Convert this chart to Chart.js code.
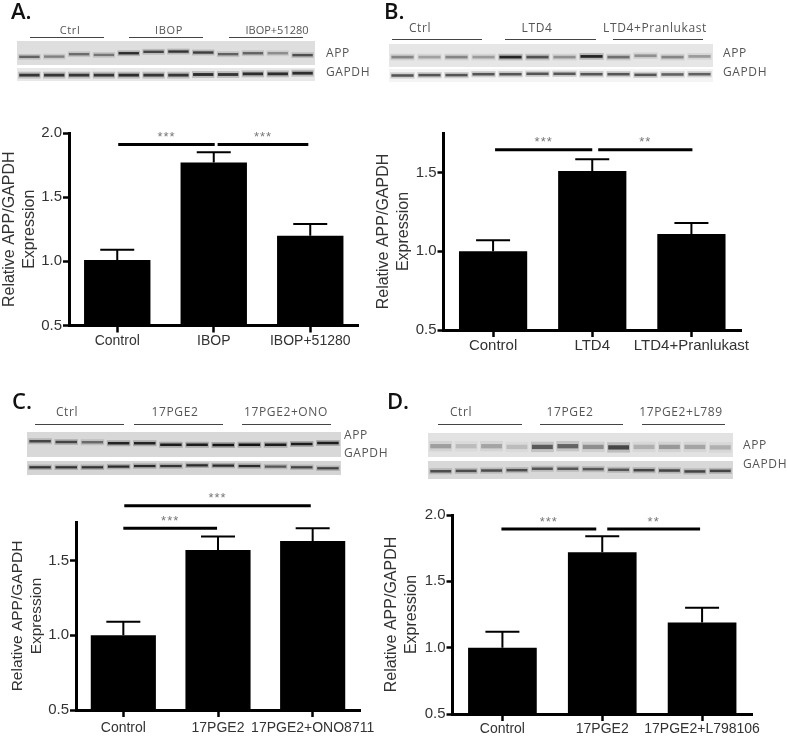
<!DOCTYPE html>
<html>
<head>
<meta charset="utf-8">
<title>APP/GAPDH expression</title>
<script src="https://cdn.jsdelivr.net/npm/chart.js@4"></script>
<style>
  html, body { margin: 0; background: #fff; }
  #page { position: relative; width: 787px; height: 736px; overflow: hidden; font-family: "Open Sans", sans-serif; filter: blur(0.3px); }
  #page canvas { position: absolute; }
  .strip { filter: blur(0.6px); }
  .panel { position: absolute; font-size: 22px; font-weight: 600; line-height: 28px; color: #111; }
  .lab { position: absolute; font-size: 12px; line-height: 14px; color: #555; letter-spacing: 0.6px; white-space: nowrap; }
  .lab.small { font-size: 11px; }
  .lab.tight { font-size: 11px; letter-spacing: 0; }
  .lab.c { transform: translateX(-50%); }
  .rule { position: absolute; height: 1px; background: #444; }
</style>
</head>
<body>
<div id="page"></div>
<script>
// bar values
const catsA = ["Control", "IBOP", "IBOP+51280"];
const valsA = [1.01, 1.77, 1.20];
const errsA = [1.09, 1.85, 1.29];
const catsB = ["Control", "LTD4", "LTD4+Pranlukast"];
const valsB = [1.00, 1.51, 1.11];
const errsB = [1.07, 1.585, 1.18];
const catsC = ["Control", "17PGE2", "17PGE2+ONO8711"];
const valsC = [1.00, 1.57, 1.63];
const errsC = [1.09, 1.66, 1.715];
const catsD = ["Control", "17PGE2", "17PGE2+L798106"];
const valsD = [1.00, 1.72, 1.19];
const errsD = [1.12, 1.84, 1.30];

// significance bars: category from, category to, value, stars
const sigFromA = [0.01, 1.04];
const sigToA = [1.01, 1.98];
const sigYA = [1.91, 1.91];
const sigStarsA = ["***", "***"];
const sigFromB = [0.02, 1.06];
const sigToB = [1.0, 2.01];
const sigYB = [1.645, 1.645];
const sigStarsB = ["***", "**"];
const sigFromC = [0.0, 0.01];
const sigToC = [0.99, 1.98];
const sigYC = [1.715, 1.865];
const sigStarsC = ["***", "***"];
const sigFromD = [-0.01, 1.05];
const sigToD = [0.94, 1.98];
const sigYD = [1.895, 1.895];
const sigStarsD = ["***", "**"];

// blot lanes, 12 per strip: band level (0 top, 1 bottom of strip) and darkness
const appLevelA = [0.66, 0.65, 0.55, 0.58, 0.51, 0.45, 0.44, 0.48, 0.55, 0.51, 0.51, 0.59];
const appDarkA = [0.55, 0.4, 0.5, 0.45, 0.85, 0.7, 0.8, 0.75, 0.55, 0.55, 0.35, 0.65];
const gapLevelA = [0.55, 0.55, 0.55, 0.55, 0.55, 0.55, 0.55, 0.5, 0.5, 0.45, 0.45, 0.4];
const gapDarkA = [0.8, 0.8, 0.8, 0.8, 0.85, 0.8, 0.8, 0.85, 0.8, 0.85, 0.85, 0.85];
const appLevelB = [0.57, 0.57, 0.57, 0.57, 0.57, 0.57, 0.57, 0.54, 0.57, 0.51, 0.57, 0.54];
const appDarkB = [0.4, 0.28, 0.4, 0.3, 0.9, 0.65, 0.35, 0.9, 0.5, 0.35, 0.4, 0.3];
const gapLevelB = [0.5, 0.47, 0.47, 0.4, 0.4, 0.37, 0.37, 0.4, 0.4, 0.45, 0.42, 0.4];
const gapDarkB = [0.65, 0.65, 0.65, 0.65, 0.65, 0.65, 0.65, 0.65, 0.65, 0.65, 0.6, 0.6];
const appLevelC = [0.37, 0.4, 0.41, 0.45, 0.45, 0.51, 0.51, 0.52, 0.51, 0.51, 0.48, 0.44];
const appDarkC = [0.7, 0.7, 0.5, 0.9, 0.9, 0.95, 0.95, 1, 1, 0.95, 0.95, 0.95];
const gapLevelC = [0.45, 0.45, 0.45, 0.4, 0.36, 0.36, 0.31, 0.33, 0.36, 0.4, 0.45, 0.52];
const gapDarkC = [0.8, 0.8, 0.8, 0.85, 0.85, 0.8, 0.85, 0.85, 0.85, 0.6, 0.7, 0.7];
const appLevelD = [0.55, 0.55, 0.55, 0.58, 0.58, 0.55, 0.58, 0.6, 0.58, 0.58, 0.58, 0.6];
const appDarkD = [0.28, 0.15, 0.25, 0.15, 0.6, 0.55, 0.35, 0.7, 0.2, 0.3, 0.25, 0.2];
const gapLevelD = [0.57, 0.55, 0.53, 0.51, 0.43, 0.43, 0.45, 0.49, 0.51, 0.53, 0.58, 0.55];
const gapDarkD = [0.65, 0.65, 0.65, 0.65, 0.6, 0.6, 0.6, 0.6, 0.7, 0.7, 0.7, 0.7];
const lanes = ["1", "2", "3", "4", "5", "6", "7", "8", "9", "10", "11", "12"];

const page = document.getElementById("page");

function addCanvas(left, top, width, height, cls) {
  const c = document.createElement("canvas");
  c.width = width;
  c.height = height;
  c.style.left = left + "px";
  c.style.top = top + "px";
  c.style.width = width + "px";
  c.style.height = height + "px";
  if (cls) c.className = cls;
  page.appendChild(c);
  return c;
}

function addText(cls, text, left, top) {
  const d = document.createElement("div");
  d.className = cls;
  d.textContent = text;
  d.style.left = left + "px";
  d.style.top = top + "px";
  page.appendChild(d);
}

function addRule(left, right, top) {
  const d = document.createElement("div");
  d.className = "rule";
  d.style.left = left + "px";
  d.style.width = right - left + "px";
  d.style.top = top + "px";
  page.appendChild(d);
}

// error bars and significance bars, placed with the chart's own scales
const marksPlugin = {
  id: "marks",
  afterDatasetsDraw(chart, args, o) {
    const { ctx, scales: { x, y } } = chart;
    ctx.save();
    ctx.strokeStyle = "#000";
    ctx.lineWidth = 2;
    o.errs.forEach((e, i) => {
      const px = x.getPixelForValue(i);
      ctx.beginPath();
      ctx.moveTo(px, y.getPixelForValue(o.vals[i]));
      ctx.lineTo(px, y.getPixelForValue(e));
      ctx.moveTo(px - 17, y.getPixelForValue(e));
      ctx.lineTo(px + 17, y.getPixelForValue(e));
      ctx.stroke();
    });
    o.sigY.forEach((v, i) => {
      const x1 = x.getPixelForValue(o.sigFrom[i]);
      const x2 = x.getPixelForValue(o.sigTo[i]);
      const py = y.getPixelForValue(v);
      ctx.lineWidth = 3;
      ctx.beginPath();
      ctx.moveTo(x1, py);
      ctx.lineTo(x2, py);
      ctx.stroke();
      ctx.fillStyle = "#777";
      ctx.font = "13px 'Liberation Sans'";
      ctx.textAlign = "center";
      ctx.textBaseline = "middle";
      ctx.letterSpacing = "1px";
      ctx.fillText(o.sigStars[i], (x1 + x2) / 2, py - 7);
      ctx.letterSpacing = "0px";
    });
    ctx.restore();
  },
};

function barPanel(box, plot, yMax, tickSize, titleSize, cats, vals, errs, sigFrom, sigTo, sigY, sigStars) {
  const c = addCanvas(box.left, box.top, box.width, box.height);
  new Chart(c, {
    type: "bar",
    data: {
      labels: cats,
      datasets: [{ data: vals, backgroundColor: "#000", barPercentage: 0.688, categoryPercentage: 1, base: 0.5 }],
    },
    plugins: [marksPlugin],
    options: {
      responsive: false,
      animation: false,
      layout: { padding: { top: plot.top - box.top, right: box.left + box.width - plot.right, left: 0, bottom: 0 } },
      plugins: {
        legend: { display: false },
        tooltip: { enabled: false },
        marks: { vals, errs, sigFrom, sigTo, sigY, sigStars },
      },
      scales: {
        x: {
          afterFit: (s) => { s.height = box.top + box.height - plot.bottom; },
          border: { color: "#000", width: 3 },
          grid: { drawOnChartArea: false, offset: false, color: "#000", tickLength: 7, tickWidth: 2.5 },
          ticks: {
            autoSkip: false, maxRotation: 0, minRotation: 0, padding: box.tickPad, color: "#333",
            font: { family: "Liberation Sans", size: tickSize },
          },
        },
        y: {
          min: 0.5,
          max: yMax,
          afterFit: (s) => { s.width = plot.left - box.left; },
          border: { color: "#000", width: 3 },
          grid: { drawOnChartArea: false, color: "#000", tickLength: 6, tickWidth: 2.5 },
          ticks: {
            stepSize: 0.5, includeBounds: false, padding: 1, color: "#333",
            font: { family: "Liberation Sans", size: 15 },
            callback: (v) => v.toFixed(1),
          },
          title: {
            display: true,
            text: ["Relative APP/GAPDH", "Expression"],
            color: "#333",
            font: { family: "Liberation Sans", size: titleSize, lineHeight: 1.25 },
            padding: { top: 0, bottom: 0 },
          },
        },
      },
    },
  });
}

// one blot strip drawn as floating bars, blurred a little by css
function blotStrip(left, top, width, height, bg, halfBand, levels, dark) {
  const c = addCanvas(left, top, width, height, "strip");
  const band = (h) => levels.map((v) => [v - h, v + h]);
  new Chart(c, {
    type: "bar",
    data: {
      labels: lanes,
      datasets: [
        { data: band(halfBand), backgroundColor: dark.map((d) => `rgba(20,20,20,${d})`), barPercentage: 0.82, categoryPercentage: 1, grouped: false, order: 0 },
        { data: band(halfBand * 2.4), backgroundColor: dark.map((d) => `rgba(40,40,40,${d * 0.28})`), barPercentage: 0.9, categoryPercentage: 1, grouped: false, order: 1 },
      ],
    },
    plugins: [{
      id: "stripBg",
      beforeDraw(chart) {
        chart.ctx.fillStyle = bg;
        chart.ctx.fillRect(0, 0, width, height);
      },
    }],
    options: {
      responsive: false,
      animation: false,
      layout: { padding: 0 },
      plugins: { legend: { display: false }, tooltip: { enabled: false } },
      scales: {
        x: { display: false },
        y: { display: false, min: 0, max: 1, reverse: true },
      },
    },
  });
}

// panel A
addText("panel", "A.", 11, -4);
addText("lab c small", "Ctrl", 70, 23);
addText("lab c small", "IBOP", 169, 23);
addText("lab c tight", "IBOP+51280", 277, 23);
addRule(30, 104, 37);
addRule(129, 203, 37);
addRule(229, 303, 37);
blotStrip(17, 41, 298, 24, "#dedede", 0.05, appLevelA, appDarkA);
blotStrip(17, 68, 298, 13, "#e8e8e8", 0.11, gapLevelA, gapDarkA);
addText("lab", "APP", 326, 46);
addText("lab", "GAPDH", 326, 65);
barPanel({ left: 0, top: 118, width: 375, height: 230, tickPad: 0 }, { left: 69, top: 133, right: 358.5, bottom: 325.5 }, 2.0, 14, 16,
  catsA, valsA, errsA, sigFromA, sigToA, sigYA, sigStarsA);

// panel B
addText("panel", "B.", 384, -4);
addText("lab c", "Ctrl", 420, 21);
addText("lab c", "LTD4", 537, 21);
addText("lab c", "LTD4+Pranlukast", 655, 21);
addRule(392, 482, 39);
addRule(505, 596, 39);
addRule(613, 703, 39);
blotStrip(389, 44, 324, 23, "#e6e6e6", 0.06, appLevelB, appDarkB);
blotStrip(389, 69, 324, 13, "#f4f4f4", 0.1, gapLevelB, gapDarkB);
addText("lab", "APP", 723, 46);
addText("lab", "GAPDH", 723, 65);
barPanel({ left: 374, top: 120, width: 398, height: 236, tickPad: 0 }, { left: 443.5, top: 133, right: 741, bottom: 330 }, 1.752, 15, 16,
  catsB, valsB, errsB, sigFromB, sigToB, sigYB, sigStarsB);

// panel C
addText("panel", "C.", 12, 386);
addText("lab c", "Ctrl", 67, 405);
addText("lab c", "17PGE2", 175, 405);
addText("lab c", "17PGE2+ONO", 286, 405);
addRule(35, 124, 424);
addRule(134, 223, 424);
addRule(242, 331, 424);
blotStrip(27, 432, 314, 25, "#d8d8d8", 0.05, appLevelC, appDarkC);
blotStrip(27, 461, 314, 14, "#d4d4d4", 0.08, gapLevelC, gapDarkC);
addText("lab", "APP", 344, 428);
addText("lab", "GAPDH", 344, 446);
barPanel({ left: 8, top: 486, width: 387, height: 250, tickPad: 3 }, { left: 76, top: 522, right: 360, bottom: 710 }, 1.757, 14, 15.5,
  catsC, valsC, errsC, sigFromC, sigToC, sigYC, sigStarsC);

// panel D
addText("panel", "D.", 387, 386);
addText("lab c", "Ctrl", 461, 405);
addText("lab c", "17PGE2", 570, 405);
addText("lab c", "17PGE2+L789", 681, 405);
addRule(438, 522, 424);
addRule(540, 623, 424);
addRule(642, 725, 424);
blotStrip(428, 433, 305, 24, "#e2e2e2", 0.09, appLevelD, appDarkD);
blotStrip(428, 461, 305, 18, "#d8d8d8", 0.07, gapLevelD, gapDarkD);
addText("lab", "APP", 743, 438);
addText("lab", "GAPDH", 743, 457);
barPanel({ left: 382, top: 500, width: 402, height: 236, tickPad: 0 }, { left: 452.5, top: 515, right: 752, bottom: 714 }, 2.0, 14, 16,
  catsD, valsD, errsD, sigFromD, sigToD, sigYD, sigStarsD);
</script>
</body>
</html>
